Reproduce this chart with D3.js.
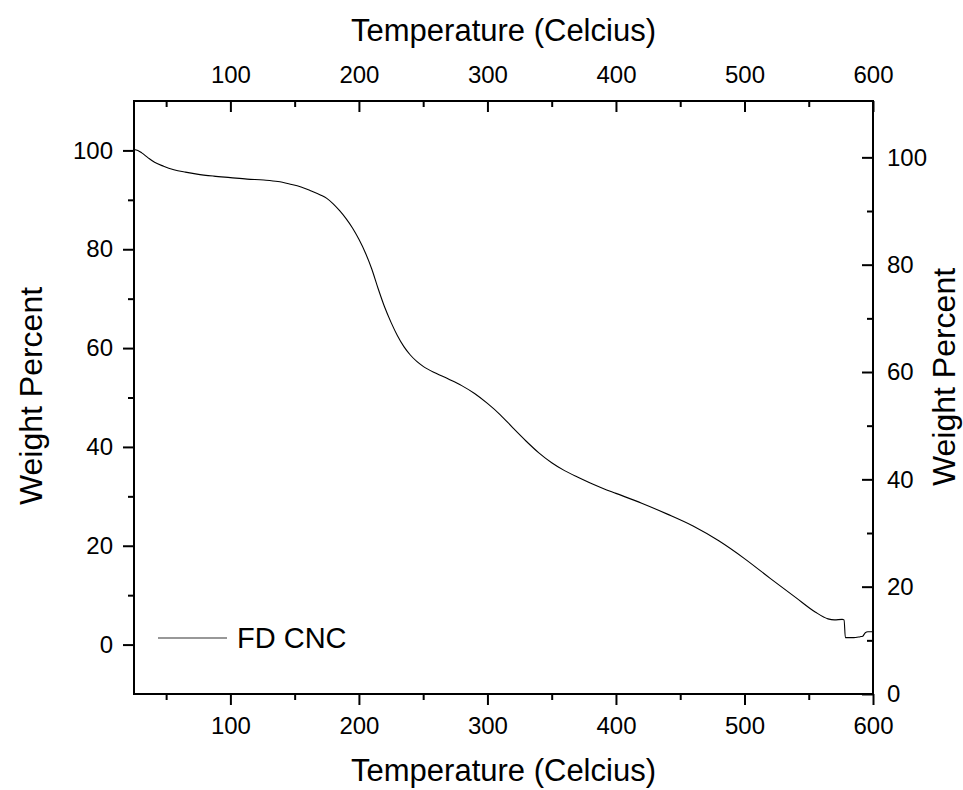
<!DOCTYPE html>
<html>
<head>
<meta charset="utf-8">
<script src="https://cdn.jsdelivr.net/npm/d3@7"></script>
<style>
  html, body { margin: 0; padding: 0; background: #fff; }
  svg { display: block; font-family: "Liberation Sans", Arial, sans-serif; }
</style>
</head>
<body>
<svg id="chart" width="963" height="790"></svg>
<script>
// TGA trace of freeze-dried CNC: temperature (°C) vs. remaining weight (%)
const temperature = [25, 28, 31, 36, 41, 48, 56, 65, 74, 87, 100, 113, 126, 137, 146, 155, 162, 170, 175, 180,
  185, 190, 195, 200, 205, 210, 215, 220, 225, 230, 235, 240, 245, 250, 260, 270, 280, 290, 300,
  310, 320, 330, 340, 350, 360, 370, 380, 390, 400, 420, 440, 460, 480, 500, 520, 540, 555, 565,
  570, 576, 577.5, 578.5, 585, 590, 592, 594, 596, 600];
const weightPercent = [100.2, 100.0, 99.5, 98.5, 97.6, 96.8, 96.1, 95.6, 95.2, 94.8, 94.5, 94.2, 94.0, 93.7, 93.2, 92.6, 91.9, 91.0, 90.3, 89.2,
  87.8, 86.2, 84.3, 82.0, 79.3, 76.0, 72.0, 68.3, 65.2, 62.5, 60.3, 58.6, 57.3, 56.3, 54.9, 53.7, 52.4, 50.8, 48.8,
  46.5, 43.8, 41.2, 38.8, 36.8, 35.2, 33.9, 32.7, 31.6, 30.6, 28.6, 26.4, 24.0, 21.0, 17.4, 13.4, 9.5, 6.6, 5.2,
  5.0, 5.1, 5.0, 1.4, 1.4, 1.6, 1.7, 2.4, 2.6, 2.6];
const seriesName = "FD CNC";

const xTicks = [100, 200, 300, 400, 500, 600];
const xMinorTicks = [50, 150, 250, 350, 450, 550];
const yLeftTicks = [0, 20, 40, 60, 80, 100];
const yLeftMinorTicks = [10, 30, 50, 70, 90];
const yRightTicks = [0, 20, 40, 60, 80, 100];
const yRightMinorTicks = [10, 30, 50, 70, 90];

const xTitle = "Temperature (Celcius)";
const yTitle = "Weight Percent";

const svg = d3.select("#chart");
const plot = { left: 134, right: 873, top: 101, bottom: 694 };

const x = d3.scaleLinear().domain([25, 600]).range([plot.left, plot.right]);
const yL = d3.scaleLinear().domain([-10, 110]).range([plot.bottom, plot.top]);
const yR = d3.scaleLinear().domain([0, 110.5]).range([plot.bottom, plot.top]);

const tickFont = "24px";

function styleAxis(g) {
  g.select(".domain").remove();
  g.selectAll("line").attr("stroke", "#000").attr("stroke-width", 2);
  g.selectAll("text").attr("fill", "#000").style("font-size", tickFont)
    .style("font-family", "'Liberation Sans', Arial, sans-serif");
}
function styleMinor(g) {
  g.select(".domain").remove();
  g.selectAll("text").remove();
  g.selectAll("line").attr("stroke", "#000").attr("stroke-width", 2);
}

// bottom axis (ticks outward)
svg.append("g").attr("transform", `translate(0,${plot.bottom})`)
  .call(d3.axisBottom(x).tickValues(xTicks).tickSize(11).tickPadding(12).tickFormat(d3.format("d")))
  .call(styleAxis);
svg.append("g").attr("transform", `translate(0,${plot.bottom})`)
  .call(d3.axisBottom(x).tickValues(xMinorTicks).tickSize(6)).call(styleMinor);

// top axis (ticks inward)
svg.append("g").attr("transform", `translate(0,${plot.top})`)
  .call(d3.axisTop(x).tickValues(xTicks).tickSize(-11).tickPadding(18).tickFormat(d3.format("d")))
  .call(styleAxis);
svg.append("g").attr("transform", `translate(0,${plot.top})`)
  .call(d3.axisTop(x).tickValues(xMinorTicks).tickSize(-6)).call(styleMinor);

// left axis (ticks outward)
svg.append("g").attr("transform", `translate(${plot.left},0)`)
  .call(d3.axisLeft(yL).tickValues(yLeftTicks).tickSize(11).tickPadding(10).tickFormat(d3.format("d")))
  .call(styleAxis);
svg.append("g").attr("transform", `translate(${plot.left},0)`)
  .call(d3.axisLeft(yL).tickValues(yLeftMinorTicks).tickSize(6)).call(styleMinor);

// right axis (ticks inward)
svg.append("g").attr("transform", `translate(${plot.right},0)`)
  .call(d3.axisRight(yR).tickValues(yRightTicks).tickSize(-11).tickPadding(14).tickFormat(d3.format("d")))
  .call(styleAxis);
svg.append("g").attr("transform", `translate(${plot.right},0)`)
  .call(d3.axisRight(yR).tickValues(yRightMinorTicks).tickSize(-6)).call(styleMinor);

// frame
svg.append("rect")
  .attr("x", plot.left).attr("y", plot.top)
  .attr("width", plot.right - plot.left).attr("height", plot.bottom - plot.top)
  .attr("fill", "none").attr("stroke", "#000").attr("stroke-width", 2);

// data line
const pts = temperature.map((t, i) => [t, weightPercent[i]]);
const line = d3.line().x(d => x(d[0])).y(d => yL(d[1])).curve(d3.curveMonotoneX);
svg.append("path").datum(pts)
  .attr("d", line)
  .attr("fill", "none").attr("stroke", "#000").attr("stroke-width", 1.1);

// legend
svg.append("line").attr("x1", 158).attr("x2", 227).attr("y1", 638).attr("y2", 638)
  .attr("stroke", "#333").attr("stroke-width", 1.2);
svg.append("text").attr("x", 237).attr("y", 648)
  .style("font-size", "29px").attr("fill", "#000").text(seriesName);

// axis titles
svg.append("text").attr("x", (plot.left + plot.right) / 2).attr("y", 781)
  .attr("text-anchor", "middle").style("font-size", "31px").text(xTitle);
svg.append("text").attr("x", (plot.left + plot.right) / 2).attr("y", 41)
  .attr("text-anchor", "middle").style("font-size", "31px").text(xTitle);
svg.append("text").attr("transform", `translate(42,396) rotate(-90)`)
  .attr("text-anchor", "middle").style("font-size", "32px").text(yTitle);
svg.append("text").attr("transform", `translate(955,377) rotate(-90)`)
  .attr("text-anchor", "middle").style("font-size", "32px").text(yTitle);
</script>
</body>
</html>
